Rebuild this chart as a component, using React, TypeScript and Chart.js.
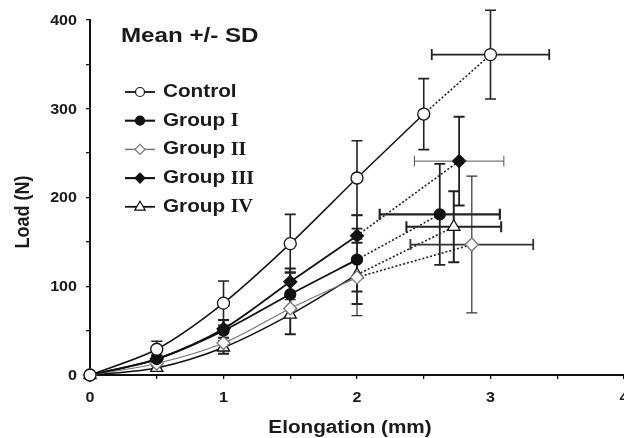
import React, { useEffect, useRef } from 'react';
import { Chart, registerables } from 'chart.js';

Chart.register(...registerables);

// ---- data ----
const seriesNames = ['Control', 'Group I', 'Group II', 'Group III', 'Group IV'];

const controlElong = [0, 0.5, 1, 1.5, 2, 2.5];
const controlLoad = [0, 29, 81, 148, 222, 294];
const controlSD = [0, 9, 25, 33, 42, 40];

const groupElong = [0, 0.5, 1, 1.5, 2];
const groupILoad = [0, 18, 50, 91, 130];
const groupISD = [0, 4, 12, 25, 50];
const groupIILoad = [0, 13, 36, 75, 110];
const groupIISD = [0, 3, 6, 10, 43];
const groupIIILoad = [0, 18, 52, 105, 157];
const groupIIISD = [0, 4, 10, 15, 8];
const groupIVLoad = [0, 8, 31, 68, 113];
const groupIVSD = [0, 3, 7, 22, 19];

// failure points (mean +/- SD in both directions)
const failElong = [3.0, 2.62, 2.86, 2.765, 2.725];
const failElongSD = [0.44, 0.45, 0.46, 0.335, 0.355];
const failLoad = [361, 181, 147, 241, 167];
const failLoadSD = [50, 57, 77, 50, 40];

const xTickLabels = ['0', '1', '2', '3', '4'];
const yTickLabels = ['0', '100', '200', '300', '400'];
const xTitle = 'Elongation (mm)';
const yTitle = 'Load (N)';
const chartTitle = 'Mean +/- SD';

// ---- styles ----
type Style = {
  shape: 'circle' | 'rectRot' | 'triangle';
  fill: string;
  stroke: string;
  radius: number;
  legendRadius: number;
  lineColor: string;
  lineWidth: number;
  errWidth: number;
  xErrWidth: number;
  errColor: string;
  xErrColor: string;
};

const styles: Style[] = [
  { shape: 'circle', fill: '#fff', stroke: '#111', radius: 6, legendRadius: 4.5, lineColor: '#111', lineWidth: 1.5, errWidth: 1.6, xErrWidth: 1.8, errColor: '#222', xErrColor: '#222' },
  { shape: 'circle', fill: '#111', stroke: '#111', radius: 5.5, legendRadius: 4.5, lineColor: '#111', lineWidth: 1.8, errWidth: 1.8, xErrWidth: 2.2, errColor: '#222', xErrColor: '#222' },
  { shape: 'rectRot', fill: '#fff', stroke: '#777', radius: 6.5, legendRadius: 5, lineColor: '#777', lineWidth: 1.2, errWidth: 1.2, xErrWidth: 1.8, errColor: '#333', xErrColor: '#333' },
  { shape: 'rectRot', fill: '#111', stroke: '#111', radius: 6.5, legendRadius: 5, lineColor: '#111', lineWidth: 1.8, errWidth: 1.8, xErrWidth: 1, errColor: '#222', xErrColor: '#555' },
  { shape: 'triangle', fill: '#fff', stroke: '#111', radius: 7, legendRadius: 5.5, lineColor: '#111', lineWidth: 1.5, errWidth: 2, xErrWidth: 2, errColor: '#222', xErrColor: '#222' },
];

const curveElong = [controlElong, groupElong, groupElong, groupElong, groupElong];
const curveLoad = [controlLoad, groupILoad, groupIILoad, groupIIILoad, groupIVLoad];
const curveSD = [controlSD, groupISD, groupIISD, groupIIISD, groupIVSD];

const SX = 1.15;
const SANS = '"Liberation Sans", Arial, sans-serif';
const SERIF = '"Liberation Serif", "Times New Roman", serif';

function stretchedText(
  ctx: CanvasRenderingContext2D,
  text: string,
  x: number,
  y: number,
  align: CanvasTextAlign,
  font: string,
  sx = SX
) {
  ctx.save();
  ctx.font = font;
  ctx.fillStyle = '#1a1a1a';
  ctx.textBaseline = 'middle';
  ctx.textAlign = align;
  ctx.translate(x, y);
  ctx.scale(sx, 1);
  ctx.fillText(text, 0, 0);
  const w = ctx.measureText(text).width * sx;
  ctx.restore();
  return w;
}

function drawMarker(ctx: CanvasRenderingContext2D, s: Style, x: number, y: number, r: number, lw: number) {
  ctx.save();
  ctx.beginPath();
  if (s.shape === 'circle') {
    ctx.arc(x, y, r, 0, Math.PI * 2);
  } else if (s.shape === 'rectRot') {
    ctx.moveTo(x, y - r);
    ctx.lineTo(x + r, y);
    ctx.lineTo(x, y + r);
    ctx.lineTo(x - r, y);
    ctx.closePath();
  } else {
    ctx.moveTo(x, y - r);
    ctx.lineTo(x + r * 0.95, y + r * 0.6);
    ctx.lineTo(x - r * 0.95, y + r * 0.6);
    ctx.closePath();
  }
  ctx.fillStyle = s.fill;
  ctx.fill();
  ctx.lineWidth = lw;
  ctx.strokeStyle = s.stroke;
  ctx.stroke();
  ctx.restore();
}

const errorBarPlugin = {
  id: 'errorBars',
  beforeDatasetsDraw(chart: any) {
    const ctx: CanvasRenderingContext2D = chart.ctx;
    const xs = chart.scales.x;
    const ys = chart.scales.y;
    const cap = 5.5;
    ctx.save();
    ctx.lineCap = 'butt';
    const vbar = (x: number, lo: number, hi: number, w: number, c: string) => {
      const px = xs.getPixelForValue(x);
      const p1 = ys.getPixelForValue(lo);
      const p2 = ys.getPixelForValue(hi);
      ctx.strokeStyle = c;
      ctx.lineWidth = w;
      ctx.beginPath();
      ctx.moveTo(px, p1);
      ctx.lineTo(px, p2);
      ctx.moveTo(px - cap, p1);
      ctx.lineTo(px + cap, p1);
      ctx.moveTo(px - cap, p2);
      ctx.lineTo(px + cap, p2);
      ctx.stroke();
    };
    const hbar = (y: number, lo: number, hi: number, w: number, c: string) => {
      const py = ys.getPixelForValue(y);
      const p1 = xs.getPixelForValue(lo);
      const p2 = xs.getPixelForValue(hi);
      ctx.strokeStyle = c;
      ctx.lineWidth = w;
      ctx.beginPath();
      ctx.moveTo(p1, py);
      ctx.lineTo(p2, py);
      ctx.moveTo(p1, py - cap);
      ctx.lineTo(p1, py + cap);
      ctx.moveTo(p2, py - cap);
      ctx.lineTo(p2, py + cap);
      ctx.stroke();
    };
    for (let i = 0; i < seriesNames.length; i++) {
      const s = styles[i];
      const ex = curveElong[i];
      const ld = curveLoad[i];
      const sd = curveSD[i];
      for (let j = 0; j < ex.length; j++) {
        if (sd[j] > 0) vbar(ex[j], ld[j] - sd[j], ld[j] + sd[j], s.errWidth, s.errColor);
      }
      vbar(failElong[i], failLoad[i] - failLoadSD[i], failLoad[i] + failLoadSD[i], s.errWidth, s.errColor);
      hbar(failLoad[i], failElong[i] - failElongSD[i], failElong[i] + failElongSD[i], s.xErrWidth, s.xErrColor);
    }
    ctx.restore();
  },
};

const textPlugin = {
  id: 'texts',
  afterDraw(chart: any) {
    const ctx: CanvasRenderingContext2D = chart.ctx;
    const xs = chart.scales.x;
    const ys = chart.scales.y;
    const tickFont = `bold 14px ${SANS}`;
    xTickLabels.forEach((t) => {
      stretchedText(ctx, t, xs.getPixelForValue(Number(t)), 398, 'center', tickFont);
    });
    yTickLabels.forEach((t) => {
      stretchedText(ctx, t, 77, ys.getPixelForValue(Number(t)) + 1, 'right', tickFont);
    });
    stretchedText(ctx, xTitle, 350, 428, 'center', `bold 18px ${SANS}`);
    // rotated y title (stretch applies across the glyph height)
    ctx.save();
    ctx.translate(23, 212);
    ctx.scale(SX, 1);
    ctx.rotate(-Math.PI / 2);
    ctx.font = `bold 18px ${SANS}`;
    ctx.fillStyle = '#1a1a1a';
    ctx.textAlign = 'center';
    ctx.textBaseline = 'middle';
    ctx.fillText(yTitle, 0, 0);
    ctx.restore();

    stretchedText(ctx, chartTitle, 121, 36, 'left', `bold 21px ${SANS}`);

    // legend
    const rowY0 = 92;
    const rowStep = 28.7;
    for (let i = 0; i < seriesNames.length; i++) {
      const s = styles[i];
      const y = rowY0 + i * rowStep;
      ctx.save();
      ctx.strokeStyle = s.lineColor;
      ctx.lineWidth = s.lineWidth + 0.3;
      ctx.beginPath();
      ctx.moveTo(125, y);
      ctx.lineTo(155, y);
      ctx.stroke();
      ctx.restore();
      drawMarker(ctx, s, 140, y, s.legendRadius, 1.2);
      const name = seriesNames[i];
      const m = name.match(/^(\S+ )(.+)$/);
      if (m) {
        const w = stretchedText(ctx, m[1], 163, y, 'left', `bold 18px ${SANS}`);
        stretchedText(ctx, m[2], 163 + w, y + 0.5, 'left', `bold 19px ${SERIF}`, 1.05);
      } else {
        stretchedText(ctx, name, 163, y, 'left', `bold 18px ${SANS}`);
      }
    }
  },
};

export default function App() {
  const ref = useRef<HTMLCanvasElement | null>(null);

  useEffect(() => {
    if (!ref.current) return;
    const datasets: any[] = [];
    for (let i = 0; i < seriesNames.length; i++) {
      const s = styles[i];
      const ex = curveElong[i];
      const ld = curveLoad[i];
      const curve = ex.map((x, j) => ({ x, y: ld[j] }));
      const last = curve[curve.length - 1];
      const fail = { x: failElong[i], y: failLoad[i] };
      datasets.push({
        label: seriesNames[i],
        data: curve,
        showLine: true,
        borderColor: s.lineColor,
        borderWidth: s.lineWidth,
        pointRadius: 0,
        tension: 0.3,
        clip: false,
        order: 3,
      });
      datasets.push({
        label: seriesNames[i] + ' failure',
        data: [last, fail],
        showLine: true,
        borderColor: '#222',
        borderWidth: 1.6,
        borderDash: [2, 2],
        pointRadius: 0,
        tension: 0,
        clip: false,
        order: 3,
      });
      datasets.push({
        label: seriesNames[i] + ' points',
        data: [...curve, fail],
        showLine: false,
        pointStyle: s.shape,
        pointRadius: s.radius,
        pointBackgroundColor: s.fill,
        pointBorderColor: s.stroke,
        pointBorderWidth: 1.3,
        clip: false,
        order: 1,
      });
    }

    const chart = new Chart(ref.current, {
      type: 'scatter',
      data: { datasets },
      options: {
        animation: false,
        responsive: false,
        devicePixelRatio: 1,
        layout: { autoPadding: false, padding: { top: 20, right: 0, left: 0, bottom: 0 } },
        plugins: {
          legend: { display: false },
          tooltip: { enabled: false },
        },
        scales: {
          x: {
            type: 'linear',
            min: 0,
            max: 4,
            ticks: { stepSize: 0.5, display: false },
            grid: { display: true, drawOnChartArea: false, drawTicks: true, tickLength: 4, color: '#111', lineWidth: 1.3 },
            border: { display: true, color: '#111', width: 2 },
            afterFit: (scale: any) => {
              scale.height = 63;
              scale.paddingLeft = 0;
              scale.paddingRight = 0;
            },
          },
          y: {
            type: 'linear',
            min: 0,
            max: 400,
            ticks: { stepSize: 50, display: false },
            grid: { display: true, drawOnChartArea: false, drawTicks: true, tickLength: 4, color: '#111', lineWidth: 1.3 },
            border: { display: true, color: '#111', width: 2 },
            afterFit: (scale: any) => {
              scale.width = 90;
              scale.paddingTop = 0;
              scale.paddingBottom = 0;
            },
          },
        },
      },
      plugins: [errorBarPlugin, textPlugin],
    });
    return () => chart.destroy();
  }, []);

  return (
    <div style={{ position: 'absolute', left: 0, top: 0, width: 624, height: 438, background: '#fff' }}>
      <canvas ref={ref} width={624} height={438} style={{ display: 'block' }} />
    </div>
  );
}
